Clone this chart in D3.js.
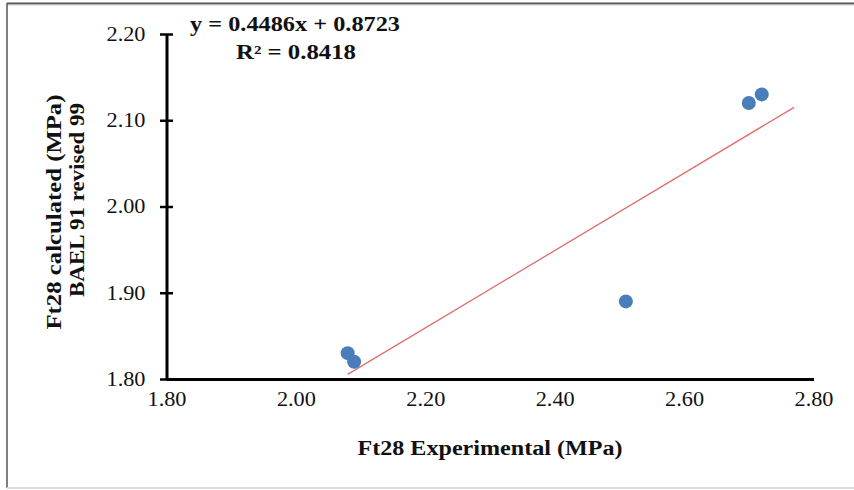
<!DOCTYPE html>
<html>
<head>
<meta charset="utf-8">
<script src="https://cdn.jsdelivr.net/npm/d3@7"></script>
<style>
  html, body { margin: 0; padding: 0; background: #fff; }
  svg { display: block; }
  text { font-family: "Liberation Serif", "Times New Roman", serif; fill: #111; }
</style>
</head>
<body>
<svg id="chart" width="854" height="490"></svg>
<script>
// Measured tensile strength vs. BAEL 91 (revised 99) prediction, MPa
const experimental = [2.08, 2.09, 2.51, 2.70, 2.72];
const calculated   = [1.83, 1.82, 1.89, 2.12, 2.13];
const xTicks = [1.80, 2.00, 2.20, 2.40, 2.60, 2.80];
const yTicks = [1.80, 1.90, 2.00, 2.10, 2.20];
// Linear fit shown on the chart
const slope = 0.4486, intercept = 0.8723, rSquared = 0.8418;
const fitRange = [2.08, 2.77];

const svg = d3.select("#chart");

// outer frame
svg.append("line").attr("x1", 7).attr("x2", 854).attr("y1", 3.5).attr("y2", 3.5)
  .attr("stroke", "#555").attr("stroke-width", 2);
svg.append("line").attr("x1", 7).attr("x2", 854).attr("y1", 5).attr("y2", 5)
  .attr("stroke", "#ccc").attr("stroke-width", 1);
svg.append("line").attr("x1", 7).attr("x2", 7).attr("y1", 3).attr("y2", 488)
  .attr("stroke", "#555").attr("stroke-width", 1.5);
svg.append("line").attr("x1", 7).attr("x2", 854).attr("y1", 488).attr("y2", 488)
  .attr("stroke", "#ddd").attr("stroke-width", 2);

const x = d3.scaleLinear().domain([1.8, 2.8]).range([166.5, 813.5]);
const y = d3.scaleLinear().domain([1.8, 2.2]).range([379, 34]);

// y axis: tick marks cross the axis line
const yAxis = svg.append("g").attr("transform", `translate(${x(1.8)},0)`)
  .call(d3.axisLeft(y).tickValues(yTicks).tickFormat(d3.format(".2f")).tickSize(0).tickSizeOuter(0).tickPadding(21));
yAxis.select(".domain").attr("stroke", "#000").attr("stroke-width", 3);
yAxis.selectAll(".tick").append("line").attr("x1", -6.5).attr("x2", 6.5)
  .attr("stroke", "#000").attr("stroke-width", 2.5);
yAxis.selectAll(".tick text").attr("font-size", 20).attr("font-family", "Liberation Serif")
  .attr("fill", "#222").attr("textLength", 39).attr("lengthAdjust", "spacingAndGlyphs");

// x axis without tick marks
const xAxis = svg.append("g").attr("transform", `translate(0,${y(1.8)})`)
  .call(d3.axisBottom(x).tickValues(xTicks).tickFormat(d3.format(".2f")).tickSize(0).tickSizeOuter(0).tickPadding(13));
xAxis.select(".domain").attr("stroke", "#000").attr("stroke-width", 3);
xAxis.selectAll(".tick text").attr("font-size", 20).attr("font-family", "Liberation Serif")
  .attr("fill", "#222").attr("textLength", 39).attr("lengthAdjust", "spacingAndGlyphs");

// trend line
const fit = fitRange.map(v => [v, slope * v + intercept]);
svg.append("path")
  .datum(fit)
  .attr("d", d3.line().x(d => x(d[0])).y(d => y(d[1])))
  .attr("fill", "none").attr("stroke", "#dd6f6c").attr("stroke-width", 1.3);

// data points
svg.append("g").selectAll("circle")
  .data(experimental.map((v, i) => [v, calculated[i]]))
  .join("circle")
  .attr("cx", d => x(d[0])).attr("cy", d => y(d[1])).attr("r", 7)
  .attr("fill", "#4a7ebb");

function boldText(t, len) {
  return t.attr("font-size", 20).attr("font-weight", "bold").attr("text-anchor", "middle")
    .attr("textLength", len).attr("lengthAdjust", "spacingAndGlyphs");
}

// fit equation
boldText(svg.append("text").attr("x", 295).attr("y", 31), 210)
  .text(`y = ${slope}x + ${intercept}`);
boldText(svg.append("text").attr("x", 296).attr("y", 59), 120)
  .text(`R² = ${rSquared}`);

// axis titles
boldText(svg.append("text").attr("x", 490).attr("y", 455), 265)
  .text("Ft28 Experimental (MPa)");
boldText(svg.append("text").attr("transform", "translate(61,212) rotate(-90)"), 235)
  .text("Ft28 calculated (MPa)");
boldText(svg.append("text").attr("transform", "translate(84,200) rotate(-90)"), 194)
  .text("BAEL 91 revised 99");
</script>
</body>
</html>
